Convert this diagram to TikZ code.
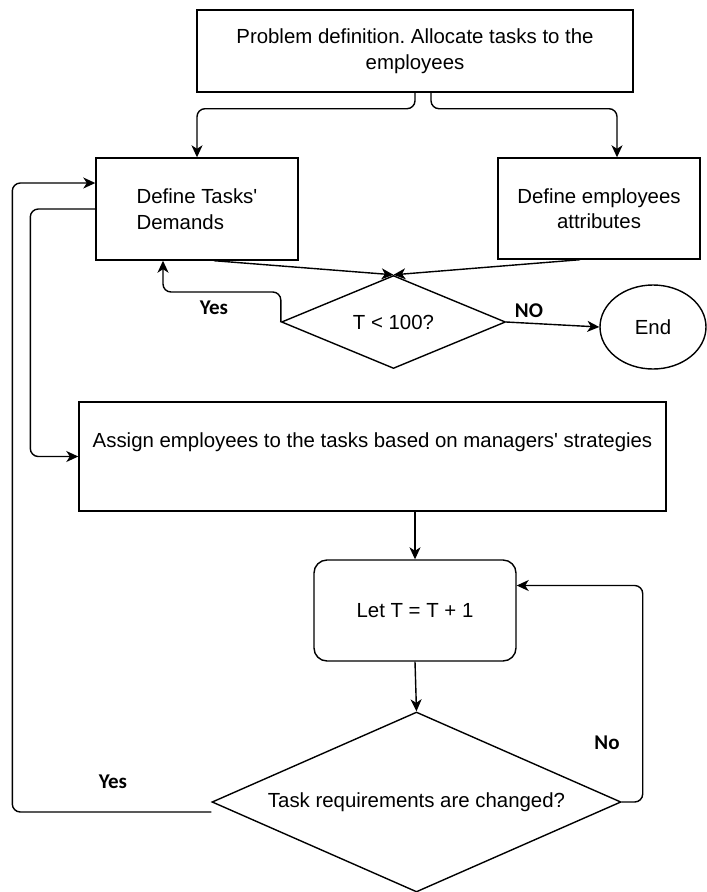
\documentclass[tikz,border=0pt]{standalone}
\usepackage{fontspec}
\setmainfont{Liberation Sans}
\newfontfamily\labfont{Carlito}
\usetikzlibrary{shapes.geometric,arrows.meta}
\newcommand\mainfs{\fontsize{20.4}{25.5}\selectfont}
\frenchspacing
\begin{document}
\begin{tikzpicture}[x=1pt,y=-1pt,
  box/.style={draw, line width=1.4pt, inner sep=0pt, font=\mainfs, align=center},
  dia/.style={draw, diamond, line width=1.4pt, inner sep=0pt, font=\mainfs},
  conn/.style={line width=1.4pt, rounded corners=8pt, -{Stealth[length=12pt,width=11pt,inset=3.5pt]}},
  lab/.style={font=\labfont\bfseries\fontsize{21}{21}\selectfont}]
\fill[white] (0,0) rectangle (707,892);
\useasboundingbox (0,0) rectangle (707,892);

\node[box, minimum width=436, minimum height=82] (top) at (415,51) {Problem definition. Allocate tasks to the\\employees};
\node[box, minimum width=202, minimum height=102, align=left] (left) at (197,209) {Define Tasks\textquotesingle\\Demands};
\node[box, minimum width=202, minimum height=101] (right) at (599,208.5) {Define employees\\attributes};
\node[dia, minimum width=224, minimum height=93, aspect=2.4] (d1) at (393.5,322) {T < 100?};
\node[draw, ellipse, line width=1.4pt, inner sep=0pt, font=\mainfs, minimum width=106, minimum height=84] (end) at (653,327) {End};
\node[box, minimum width=587, minimum height=109, text height=14pt, text depth=33pt] (assign) at (372.5,456.5) {Assign employees to the tasks based on managers\textquotesingle\ strategies};
\node[box, rounded corners=13pt, minimum width=202, minimum height=101] (let) at (415,610.5) {Let T = T + 1};
\node[dia, minimum width=409, minimum height=180, aspect=2.27] (d2) at (416.5,802) {Task requirements are changed?};

\draw[conn] (top.south) -- ++(0,16) -| (left.north);
\draw[conn] ([xshift=16pt]top.south) -- ++(0,16) -| ([xshift=18pt]right.north);
\draw[conn] ([xshift=17pt]left.south) -- (d1.north);
\draw[conn] ([xshift=-19pt]right.south) -- (d1.north);
\draw[conn] (d1.west) -- ++(0,-30) -| ([xshift=-34pt]left.south);
\draw[conn] (d1.east) -- (end.west);
\draw[conn] ([yshift=-10pt]d2.west) -- ++(-199,0) |- ([yshift=26pt]left.west);
\draw[conn] (left.west) -- ++(-65,0) |- (assign.west);
\draw[conn] (assign.south -| let.north) -- (let.north);
\draw[conn] (let.south) -- (d2.north);
\draw[conn] (d2.east) -- ++(21,0) |- ([yshift=25pt]let.east);

\node[lab] (yes1) at (214,308) {Yes};
\node[lab] (no1) at (529,311) {NO};
\node[lab] (no2) at (607,743) {No};
\node[lab] (yes2) at (113,782) {Yes};
\end{tikzpicture}
\end{document}
